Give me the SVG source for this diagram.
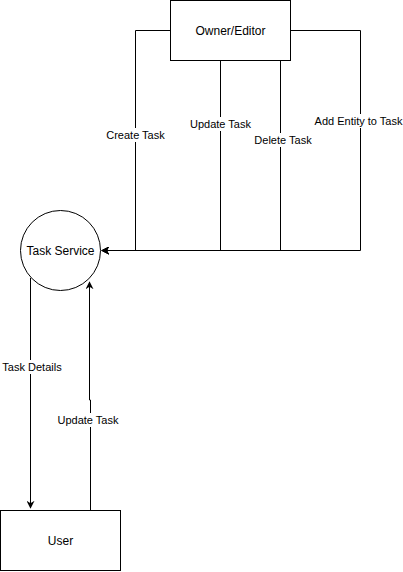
<svg xmlns="http://www.w3.org/2000/svg" width="403" height="572" viewBox="0 0 403 572">
<style>
.n{fill:#fff;stroke:#000;stroke-width:1}
.t{font-family:"Liberation Sans",Arial,sans-serif;font-size:12px;fill:#000;text-anchor:middle;dominant-baseline:central}
.e{fill:none;stroke:#000;stroke-width:1}
.lb{fill:#fff}
.l{font-family:"Liberation Sans",Arial,sans-serif;font-size:11px;fill:#000;text-anchor:middle;dominant-baseline:central}
</style>
<defs>
<marker id="a" viewBox="0 0 10 10" refX="9" refY="5" markerWidth="8" markerHeight="8" markerUnits="userSpaceOnUse" orient="auto">
<path d="M0,0 L10,5 L0,10 L3,5 Z" fill="#000"/>
</marker>
</defs>
<rect width="403" height="572" fill="#fff"/>
<g id="connectors">
<path class="e" d="M170,30.5 H135.5 V250.5 H102" marker-end="url(#a)"/>
<path class="e" d="M220.5,60 V250.5 H102" marker-end="url(#a)"/>
<path class="e" d="M280.5,60 V250.5 H102" marker-end="url(#a)"/>
<path class="e" d="M290,30.5 H360.5 V250.5 H102" marker-end="url(#a)"/>
<path class="e" d="M30.5,278 V508" marker-end="url(#a)"/>
<path class="e" d="M90.5,510 V400 H89.5 V282" marker-end="url(#a)"/>
<g>
<rect class="lb" x="105" y="128" width="61" height="14"/>
<text class="l" x="135.5" y="135">Create Task</text>
<rect class="lb" x="189" y="117" width="63" height="14"/>
<text class="l" x="220.5" y="124">Update Task</text>
<rect class="lb" x="253" y="133" width="60" height="14"/>
<text class="l" x="283" y="140">Delete Task</text>
<rect class="lb" x="313" y="114" width="91" height="14"/>
<text class="l" x="358.5" y="121">Add Entity to Task</text>
<rect class="lb" x="2" y="360" width="62" height="14"/>
<text class="l" x="32" y="367">Task Details</text>
<rect class="lb" x="57" y="413" width="63" height="14"/>
<text class="l" x="88" y="420">Update Task</text>
</g>
</g>
<g id="owner">
<rect class="n" x="170.5" y="0.5" width="120" height="60"/>
<text class="t" x="230.5" y="30.5">Owner/Editor</text>
</g>
<g id="taskservice">
<circle class="n" cx="60.5" cy="250.5" r="40"/>
<text class="t" x="60.5" y="250.5">Task Service</text>
</g>
<g id="user">
<rect class="n" x="0.5" y="510.5" width="120" height="60"/>
<text class="t" x="60.5" y="540.5">User</text>
</g>
</svg>
